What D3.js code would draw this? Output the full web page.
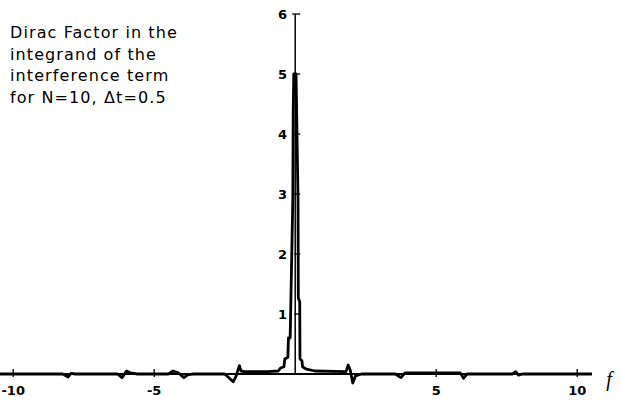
<html>
<head>
<script src="https://cdnjs.cloudflare.com/ajax/libs/d3/7.8.5/d3.min.js"></script>
<style>
body { margin: 0; background: white; }
svg text { font-family: "DejaVu Sans", sans-serif; }
</style>
</head>
<body>
<svg id="canvas" width="621" height="404"></svg>
<script>
// values (f, Dirac factor)
var freq = [-10.47, -8.25, -8.05, -7.95, -7.8, -6.3, -6.14, -5.98, -5.85, -5.6,
            -4.5, -4.33, -4.15, -3.95, -3.8, -3.6, -2.5, -2.38, -2.2, -2.1,
            -1.98, -1.92, -1.8, -1.0, -0.6, -0.52, -0.4, -0.37, -0.26, -0.24,
            -0.18, -0.17, -0.085, -0.07, -0.05, 0.03, 0.05, 0.1, 0.11, 0.16, 0.17,
            0.24, 0.26, 0.4, 0.7, 1.8, 1.88, 1.96, 2.04, 2.14, 2.35,
            3.55, 3.75, 3.9, 4.4, 5.5, 5.85, 5.97, 6.1, 7.7, 7.82,
            7.92, 8.05, 10.52];
var dirac = [0, 0, -0.05, 0.01, 0, 0, -0.06, 0.05, 0.02, 0,
             0, 0.05, 0.02, -0.06, -0.01, 0, 0, -0.05, -0.13, -0.04,
             0.14, 0.05, 0.04, 0.04, 0.05, 0.1, 0.12, 0.25, 0.28, 0.6,
             0.6, 0.8, 2.9, 4.4, 5.0, 5.0, 4.4, 2.9, 1.27, 1.2, 0.25,
             0.22, 0.12, 0.08, 0.05, 0.04, 0.15, 0.05, -0.15, -0.03, 0,
             0, -0.06, 0.02, 0.02, 0.02, 0.02, -0.07, 0, 0, 0.04,
             -0.02, 0, 0];
var xTicks = [-10, -5, 5, 10];
var yTicks = [1, 2, 3, 4, 5, 6];
var axisExtent = [-10.47, 10.52];
var noteLines = ["Dirac Factor in the", "integrand of the", "interference term", "for N=10, \u0394t=0.5"];

var svg = d3.select("#canvas");
var x = d3.scaleLinear().domain([-10, 10]).range([13.2, 577.2]);
var y = d3.scaleLinear().domain([0, 6]).range([374, 14]);

// axes
svg.append("line")
    .attr("x1", x(axisExtent[0])).attr("x2", x(axisExtent[1]))
    .attr("y1", y(0)).attr("y2", y(0))
    .attr("stroke", "black").attr("stroke-width", 1.8);
svg.append("line")
    .attr("x1", x(0)).attr("x2", x(0))
    .attr("y1", y(0)).attr("y2", y(6))
    .attr("stroke", "black").attr("stroke-width", 1.5);

svg.selectAll(".xtick").data(xTicks).enter().append("line")
    .attr("x1", d => x(d)).attr("x2", d => x(d))
    .attr("y1", y(0) - 5).attr("y2", y(0) + 3)
    .attr("stroke", "black").attr("stroke-width", 1.3);
svg.selectAll(".xlab").data(xTicks).enter().append("text")
    .attr("x", d => x(d)).attr("y", 395)
    .attr("text-anchor", "middle")
    .style("font-size", "13px").style("font-weight", "bold")
    .text(d => d < 0 ? "-" + Math.abs(d) : d);

svg.selectAll(".ytick").data(yTicks).enter().append("line")
    .attr("x1", d => x(0) - (d == 6 ? 3 : 1)).attr("x2", x(0) + 5)
    .attr("y1", d => y(d)).attr("y2", d => y(d))
    .attr("stroke", "black").attr("stroke-width", 1.3);
svg.selectAll(".ylab").data(yTicks).enter().append("text")
    .attr("x", 287).attr("y", d => y(d) + 5)
    .attr("text-anchor", "end")
    .style("font-size", "13px").style("font-weight", "bold")
    .text(d => d);

// curve
var pts = freq.map((f, i) => [f, dirac[i]]);
var line = d3.line().x(d => x(d[0])).y(d => y(d[1]));
svg.append("path")
    .attr("d", line(pts))
    .attr("fill", "none").attr("stroke", "black")
    .attr("stroke-width", 2.8).attr("stroke-linejoin", "round");

// axis name
svg.append("text")
    .attr("x", 609).attr("y", 386)
    .attr("text-anchor", "middle")
    .style("font-family", "'Liberation Serif', serif")
    .style("font-style", "italic").style("font-size", "20px")
    .text("f");

// note
svg.selectAll(".note").data(noteLines).enter().append("text")
    .attr("x", 10).attr("y", (d, i) => 38 + i * 21.5)
    .style("font-size", "16px").style("letter-spacing", "1.1px")
    .text(d => d);
</script>
</body>
</html>
